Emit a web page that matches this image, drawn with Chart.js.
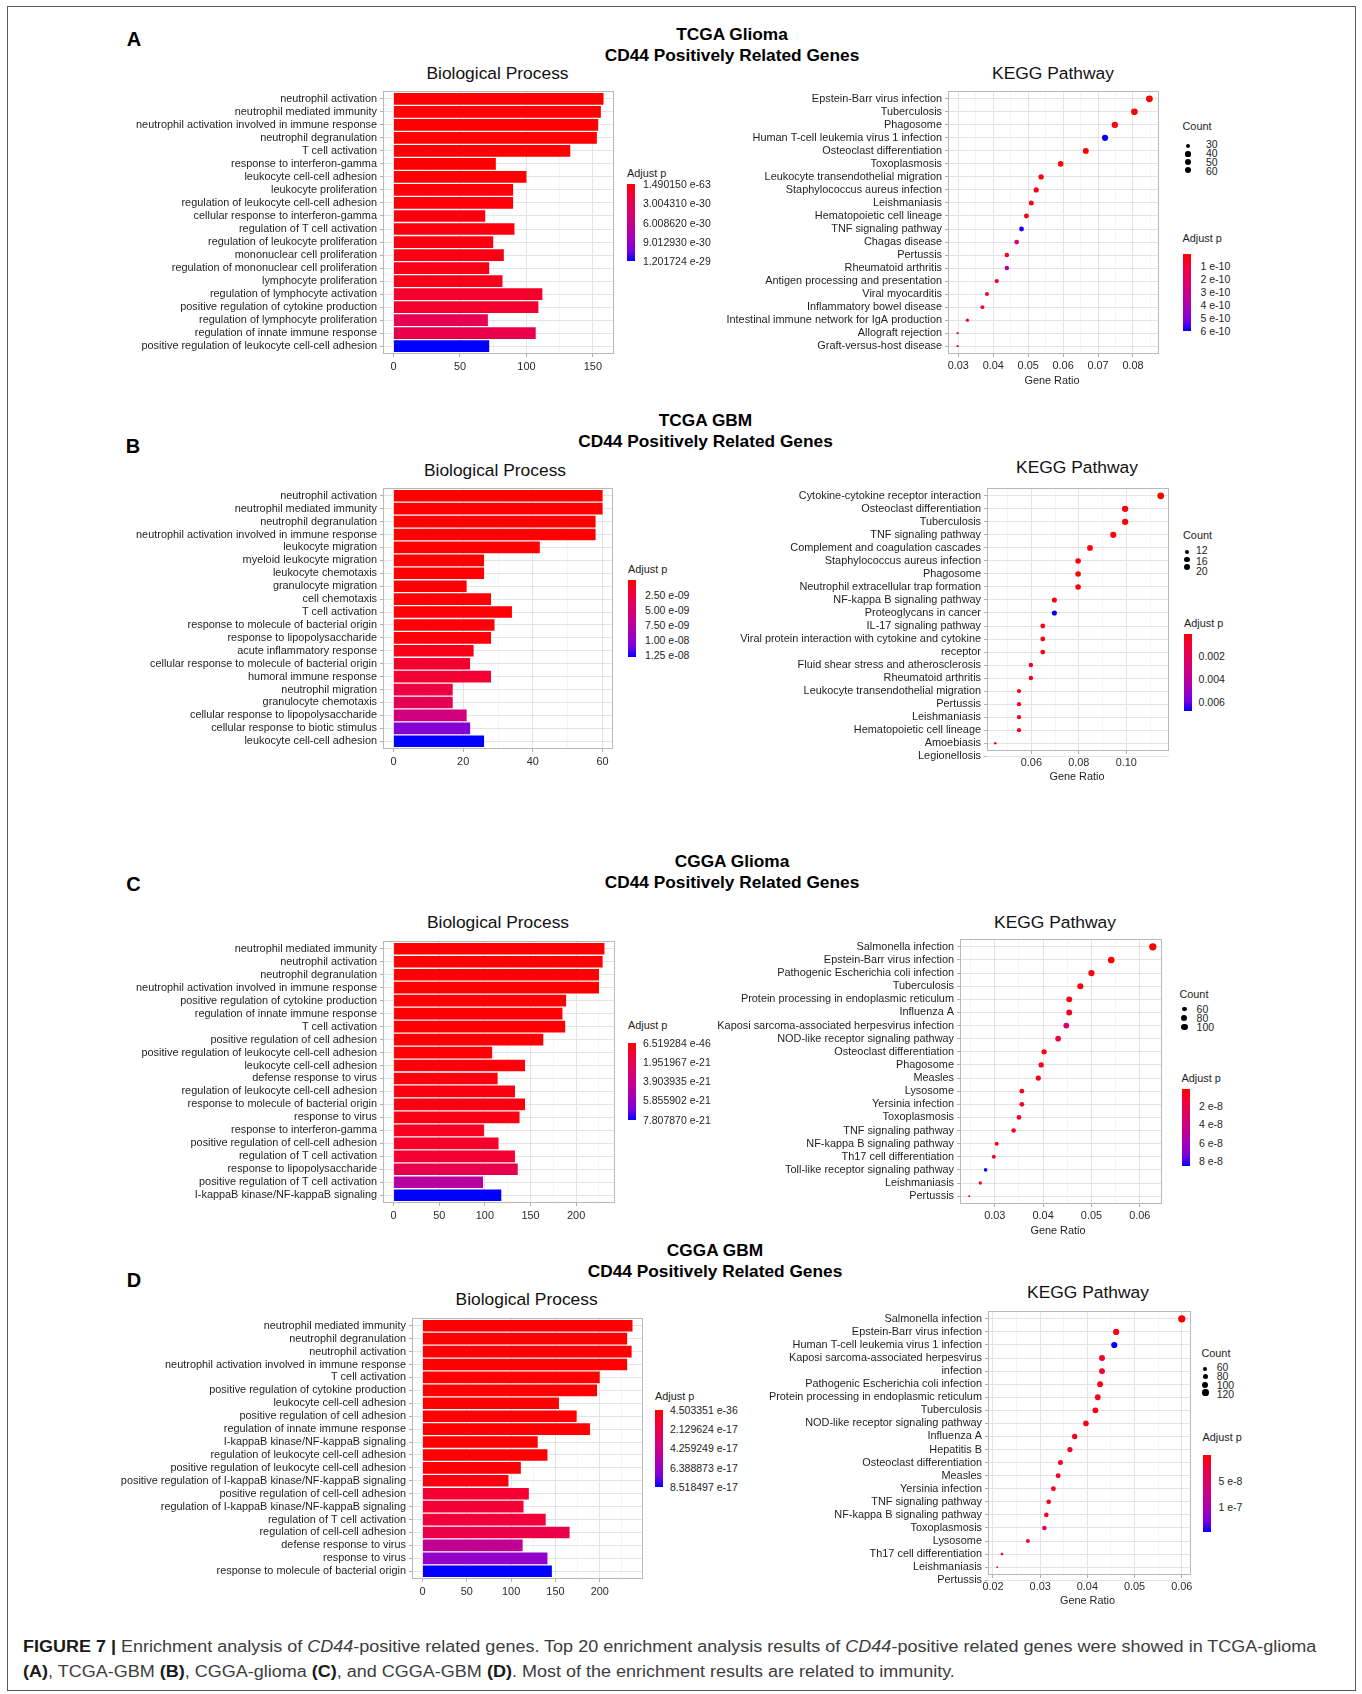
<!DOCTYPE html>
<html>
<head>
<meta charset="utf-8">
<script src="https://cdn.jsdelivr.net/npm/chart.js@4/dist/chart.umd.min.js"></script>
<style>
  body { margin: 0; background: #fff; }
  #fig { position: relative; width: 1362px; height: 1694px; overflow: hidden; font-family: "Liberation Sans", Arial, Helvetica, sans-serif; }
  #fig canvas { position: absolute; }
  .t { position: absolute; white-space: nowrap; line-height: 1.15; }
  .frame { position: absolute; left: 7px; top: 6px; width: 1347px; height: 1683px; border: 1.5px solid #5a5a5a; }
  .cap { position: absolute; left: 23px; white-space: nowrap; font-family: "Liberation Sans Narrow", "Liberation Sans", Arial, sans-serif; font-size: 16px; color: #3c3c3c; transform-origin: 0 50%; }
  .cap b { color: #1a1a1a; }
</style>
</head>
<body>
<div id="fig"><div class="frame"></div></div>
<script>
// ---------- A: TCGA glioma ----------
const bpTermsA = ["neutrophil activation", "neutrophil mediated immunity", "neutrophil activation involved in immune response",
  "neutrophil degranulation", "T cell activation", "response to interferon-gamma", "leukocyte cell-cell adhesion",
  "leukocyte proliferation", "regulation of leukocyte cell-cell adhesion", "cellular response to interferon-gamma",
  "regulation of T cell activation", "regulation of leukocyte proliferation", "mononuclear cell proliferation",
  "regulation of mononuclear cell proliferation", "lymphocyte proliferation", "regulation of lymphocyte activation",
  "positive regulation of cytokine production", "regulation of lymphocyte proliferation",
  "regulation of innate immune response", "positive regulation of leukocyte cell-cell adhesion"];
const bpCountA = [158, 156, 154, 153, 133, 77, 100, 90, 90, 69, 91, 75, 83, 72, 82, 112, 109, 71, 107, 72];
const bpPadjA = [1.49e-63, 5.2e-62, 8.7e-61, 2.4e-60, 3.1e-52, 6.5e-37, 1.8e-36, 2.6e-31, 2.9e-31, 3.8e-31,
  4.4e-31, 5.3e-31, 6.1e-31, 7.2e-31, 8.0e-31, 1.3e-30, 1.45e-30, 3.2e-30, 2.9e-30, 1.2017e-29];
const keggTermsA = ["Epstein-Barr virus infection", "Tuberculosis", "Phagosome", "Human T-cell leukemia virus 1 infection",
  "Osteoclast differentiation", "Toxoplasmosis", "Leukocyte transendothelial migration", "Staphylococcus aureus infection",
  "Leishmaniasis", "Hematopoietic cell lineage", "TNF signaling pathway", "Chagas disease", "Pertussis",
  "Rheumatoid arthritis", "Antigen processing and presentation", "Viral myocarditis", "Inflammatory bowel disease",
  "Intestinal immune network for IgA production", "Allograft rejection", "Graft-versus-host disease"];
const keggRatioA = [0.0847, 0.0804, 0.0748, 0.0720, 0.0665, 0.0593, 0.0537, 0.0523, 0.0509, 0.0495,
  0.0481, 0.0467, 0.0439, 0.0439, 0.0410, 0.0382, 0.0369, 0.0326, 0.0298, 0.0298];
const keggCountA = [64, 61, 56, 54, 50, 45, 41, 40, 38, 37, 36, 35, 33, 33, 31, 29, 28, 25, 23, 23];
const keggPadjA = [8e-12, 1.2e-11, 1.5e-11, 6.0e-10, 9e-12, 2.4e-11, 2.9e-11, 3.3e-11, 4.1e-11, 4.6e-11,
  5.8e-10, 2.6e-10, 5.0e-11, 3.7e-10, 7.9e-11, 6.2e-11, 9.5e-11, 8.4e-11, 9.9e-11, 1.02e-10];

// ---------- B: TCGA GBM ----------
const bpTermsB = ["neutrophil activation", "neutrophil mediated immunity", "neutrophil degranulation",
  "neutrophil activation involved in immune response", "leukocyte migration", "myeloid leukocyte migration",
  "leukocyte chemotaxis", "granulocyte migration", "cell chemotaxis", "T cell activation",
  "response to molecule of bacterial origin", "response to lipopolysaccharide", "acute inflammatory response",
  "cellular response to molecule of bacterial origin", "humoral immune response", "neutrophil migration",
  "granulocyte chemotaxis", "cellular response to lipopolysaccharide", "cellular response to biotic stimulus",
  "leukocyte cell-cell adhesion"];
const bpCountB = [60, 60, 58, 58, 42, 26, 26, 21, 28, 34, 29, 28, 23, 22, 28, 17, 17, 21, 22, 26];
const bpPadjB = [1.2e-15, 3.5e-15, 8.1e-14, 1.6e-13, 2.2e-12, 4.7e-11, 6.3e-11, 9.8e-11, 1.5e-10, 2.1e-10,
  2.6e-10, 3.4e-10, 7.7e-10, 1.54e-9, 1.8e-9, 2.56e-9, 3.46e-9, 5.76e-9, 1.05e-8, 1.28e-8];
const keggTermsB = ["Cytokine-cytokine receptor interaction", "Osteoclast differentiation", "Tuberculosis",
  "TNF signaling pathway", "Complement and coagulation cascades", "Staphylococcus aureus infection", "Phagosome",
  "Neutrophil extracellular trap formation", "NF-kappa B signaling pathway", "Proteoglycans in cancer",
  "IL-17 signaling pathway", "Viral protein interaction with cytokine and cytokine", "receptor",
  "Fluid shear stress and atherosclerosis", "Rheumatoid arthritis", "Leukocyte transendothelial migration",
  "Pertussis", "Leishmaniasis", "Hematopoietic cell lineage", "Amoebiasis", "Legionellosis"];
const keggRatioB = [0.1145, 0.0995, 0.0995, 0.0945, 0.0847, 0.0797, 0.0797, 0.0797, 0.0697, 0.0697,
  0.0648, 0.0648, 0.0648, 0.0598, 0.0598, 0.0548, 0.0548, 0.0548, 0.0548, 0.0448];
const keggCountB = [23, 20, 20, 19, 17, 16, 16, 16, 14, 14, 13, 13, 13, 12, 12, 11, 11, 11, 11, 9];
const keggPadjB = [6.0e-5, 1.1e-4, 1.3e-4, 1.5e-4, 2.6e-4, 2.2e-4, 2.4e-4, 1.9e-4, 3.1e-4, 6.8e-3,
  2.9e-4, 3.4e-4, 3.6e-4, 4.1e-4, 4.3e-4, 4.7e-4, 5.0e-4, 5.2e-4, 5.5e-4, 6.3e-4];

// ---------- C: CGGA glioma ----------
const bpTermsC = ["neutrophil mediated immunity", "neutrophil activation", "neutrophil degranulation",
  "neutrophil activation involved in immune response", "positive regulation of cytokine production",
  "regulation of innate immune response", "T cell activation", "positive regulation of cell adhesion",
  "positive regulation of leukocyte cell-cell adhesion", "leukocyte cell-cell adhesion", "defense response to virus",
  "regulation of leukocyte cell-cell adhesion", "response to molecule of bacterial origin", "response to virus",
  "response to interferon-gamma", "positive regulation of cell-cell adhesion", "regulation of T cell activation",
  "response to lipopolysaccharide", "positive regulation of T cell activation", "I-kappaB kinase/NF-kappaB signaling"];
const bpCountC = [231, 229, 225, 225, 189, 185, 188, 164, 108, 144, 114, 133, 144, 138, 99, 115, 133, 136, 98, 118];
const bpPadjC = [6.52e-46, 1.1e-45, 3.4e-44, 4.1e-44, 2.7e-33, 5.9e-31, 8.8e-31, 4.6e-28, 1.6e-22, 2.4e-22,
  2.9e-22, 3.3e-22, 3.6e-22, 3.9e-22, 6.3e-22, 8.6e-22, 1.02e-21, 1.96e-21, 4.7e-21, 7.85e-21];
const keggTermsC = ["Salmonella infection", "Epstein-Barr virus infection", "Pathogenic Escherichia coli infection",
  "Tuberculosis", "Protein processing in endoplasmic reticulum", "Influenza A",
  "Kaposi sarcoma-associated herpesvirus infection", "NOD-like receptor signaling pathway",
  "Osteoclast differentiation", "Phagosome", "Measles", "Lysosome", "Yersinia infection", "Toxoplasmosis",
  "TNF signaling pathway", "NF-kappa B signaling pathway", "Th17 cell differentiation",
  "Toll-like receptor signaling pathway", "Leishmaniasis", "Pertussis"];
const keggRatioC = [0.0627, 0.0541, 0.0500, 0.0477, 0.0454, 0.0454, 0.0448, 0.0431, 0.0402, 0.0396,
  0.0390, 0.0356, 0.0356, 0.0350, 0.0339, 0.0304, 0.0298, 0.0281, 0.0270, 0.0247];
const keggCountC = [110, 95, 87, 83, 79, 79, 78, 75, 70, 69, 68, 62, 62, 61, 59, 53, 52, 49, 47, 43];
const keggPadjC = [1.6e-9, 2.4e-9, 3.1e-9, 3.9e-9, 5.2e-9, 9.8e-9, 3.5e-8, 1.4e-8, 4.4e-9, 4.9e-9,
  5.5e-9, 1.0e-8, 1.05e-8, 8.1e-9, 6.0e-9, 8.6e-9, 1.02e-8, 8.5e-8, 6.2e-9, 6.6e-9];

// ---------- D: CGGA GBM ----------
const bpTermsD = ["neutrophil mediated immunity", "neutrophil degranulation", "neutrophil activation",
  "neutrophil activation involved in immune response", "T cell activation", "positive regulation of cytokine production",
  "leukocyte cell-cell adhesion", "positive regulation of cell adhesion", "regulation of innate immune response",
  "I-kappaB kinase/NF-kappaB signaling", "regulation of leukocyte cell-cell adhesion",
  "positive regulation of leukocyte cell-cell adhesion", "positive regulation of I-kappaB kinase/NF-kappaB signaling",
  "positive regulation of cell-cell adhesion", "regulation of I-kappaB kinase/NF-kappaB signaling",
  "regulation of T cell activation", "regulation of cell-cell adhesion", "defense response to virus",
  "response to virus", "response to molecule of bacterial origin"];
const bpCountD = [237, 231, 236, 231, 200, 197, 154, 174, 189, 130, 141, 111, 97, 120, 114, 139, 166, 113, 141, 146];
const bpPadjD = [4.50e-36, 9.1e-36, 1.3e-35, 2.2e-35, 3.6e-31, 7.7e-30, 5.5e-25, 1.2e-24, 4.4e-24, 3.7e-20,
  8.9e-20, 6.2e-19, 3.4e-18, 1.1e-17, 1.2e-17, 1.36e-17, 1.87e-17, 4.7e-17, 6.55e-17, 8.53e-17];
const keggTermsD = ["Salmonella infection", "Epstein-Barr virus infection", "Human T-cell leukemia virus 1 infection",
  "Kaposi sarcoma-associated herpesvirus", "infection", "Pathogenic Escherichia coli infection",
  "Protein processing in endoplasmic reticulum", "Tuberculosis", "NOD-like receptor signaling pathway", "Influenza A",
  "Hepatitis B", "Osteoclast differentiation", "Measles", "Yersinia infection", "TNF signaling pathway",
  "NF-kappa B signaling pathway", "Toxoplasmosis", "Lysosome", "Th17 cell differentiation", "Leishmaniasis", "Pertussis"];
const keggRatioD = [0.0600, 0.0461, 0.0457, 0.0431, 0.0431, 0.0427, 0.0422, 0.0417, 0.0397, 0.0373,
  0.0363, 0.0343, 0.0338, 0.0328, 0.0318, 0.0313, 0.0309, 0.0274, 0.0219, 0.0209];
const keggCountD = [138, 106, 105, 99, 99, 98, 97, 96, 91, 86, 83, 79, 78, 75, 73, 72, 71, 63, 50, 48];
const keggPadjD = [1.0e-9, 1.1e-8, 1.48e-7, 1.6e-8, 1.55e-8, 1.3e-8, 1.15e-8, 8.5e-9, 8.2e-9, 1.6e-8,
  1.5e-8, 1.45e-8, 1.25e-8, 1.5e-8, 1.3e-8, 1.6e-8, 5.2e-8, 1.9e-8, 2.3e-8, 6.7e-8];

// ---------- ticks & legend breaks ----------
const bpTicksA = [0, 50, 100, 150];
const bpTicksB = [0, 20, 40, 60];
const bpTicksC = [0, 50, 100, 150, 200];
const bpTicksD = [0, 50, 100, 150, 200];
const keggTicksA = [0.03, 0.04, 0.05, 0.06, 0.07, 0.08];
const keggTicksB = [0.06, 0.08, 0.10];
const keggTicksC = [0.03, 0.04, 0.05, 0.06];
const keggTicksD = [0.02, 0.03, 0.04, 0.05, 0.06];
const countBreaksA = [30, 40, 50, 60];
const countBreaksB = [12, 16, 20];
const countBreaksC = [60, 80, 100];
const countBreaksD = [60, 80, 100, 120];
const bpPBreaksA = [1.490150e-63, 3.004310e-30, 6.008620e-30, 9.012930e-30, 1.201724e-29];
const bpPLabelsA = ["1.490150 e-63", "3.004310 e-30", "6.008620 e-30", "9.012930 e-30", "1.201724 e-29"];
const bpPBreaksB = [2.5e-9, 5e-9, 7.5e-9, 1e-8, 1.25e-8];
const bpPLabelsB = ["2.50 e-09", "5.00 e-09", "7.50 e-09", "1.00 e-08", "1.25 e-08"];
const bpPBreaksC = [6.519284e-46, 1.951967e-21, 3.903935e-21, 5.855902e-21, 7.807870e-21];
const bpPLabelsC = ["6.519284 e-46", "1.951967 e-21", "3.903935 e-21", "5.855902 e-21", "7.807870 e-21"];
const bpPBreaksD = [4.503351e-36, 2.129624e-17, 4.259249e-17, 6.388873e-17, 8.518497e-17];
const bpPLabelsD = ["4.503351 e-36", "2.129624 e-17", "4.259249 e-17", "6.388873 e-17", "8.518497 e-17"];
const keggPBreaksA = [1e-10, 2e-10, 3e-10, 4e-10, 5e-10, 6e-10];
const keggPLabelsA = ["1 e-10", "2 e-10", "3 e-10", "4 e-10", "5 e-10", "6 e-10"];
const keggPBreaksB = [0.002, 0.004, 0.006];
const keggPLabelsB = ["0.002", "0.004", "0.006"];
const keggPBreaksC = [2e-8, 4e-8, 6e-8, 8e-8];
const keggPLabelsC = ["2 e-8", "4 e-8", "6 e-8", "8 e-8"];
const keggPBreaksD = [5e-8, 1e-7];
const keggPLabelsD = ["5 e-8", "1 e-7"];

// ---------- helpers ----------
const fig = document.getElementById("fig");
// red -> blue, sampled from a Lab interpolation (like ggplot's continuous colour scale)
const RAMP = [[0, [255, 0, 0]], [0.125, [244, 0, 49]], [0.25, [232, 0, 79]], [0.5, [202, 0, 137]],
  [0.75, [154, 0, 195]], [0.875, [115, 0, 224]], [1, [0, 0, 255]]];
const GRADIENT = "linear-gradient(to bottom," + RAMP.map(([t, c]) => `rgb(${c}) ${t * 100}%`).join(",") + ")";

function rampColor(t) {
  t = Math.max(0, Math.min(1, t));
  for (let i = 1; i < RAMP.length; i++) {
    const [t1, c1] = RAMP[i];
    if (t <= t1) {
      const [t0, c0] = RAMP[i - 1];
      const f = (t - t0) / (t1 - t0);
      return `rgb(${c0.map((v, k) => Math.round(v + (c1[k] - v) * f)).join(",")})`;
    }
  }
  return "rgb(0,0,255)";
}

function text(str, x, y, { size = 10.9, weight = 400, align = "left", color = "#1e1e1e" } = {}) {
  const d = document.createElement("div");
  d.className = "t";
  d.innerHTML = str;
  const tx = align === "center" ? "-50%" : align === "right" ? "-100%" : "0";
  d.style.cssText = `left:${x}px;top:${y}px;font-size:${size}px;font-weight:${weight};color:${color};transform:translate(${tx},-50%)`;
  fig.appendChild(d);
}

const panelBorder = {
  id: "panelBorder",
  afterDraw(chart) {
    const { ctx, chartArea: a } = chart;
    ctx.save();
    ctx.strokeStyle = "#b8b8b8";
    ctx.lineWidth = 1;
    ctx.strokeRect(a.left + 0.5, a.top + 0.5, a.width - 1, a.height - 1);
    ctx.restore();
  }
};

Chart.defaults.font.family = '"Liberation Sans", Arial, Helvetica, sans-serif';
Chart.defaults.font.size = 10.9;
Chart.defaults.color = "#1e1e1e";

function makeChart({ kind, box, wy, terms, xs, padj, counts, ticks, rMin = 1.1, rMax = 3.5 }) {
  const [L, T, R, B] = box;
  const padT = 4, padR = 4, hx = kind === "bar" ? 28 : 32;
  const w = Math.round(wy + (R - L) + padR), h = Math.round(padT + (B - T) + hx);
  const canvas = document.createElement("canvas");
  canvas.width = w;
  canvas.height = h;
  canvas.style.left = (L - wy) + "px";
  canvas.style.top = (T - padT) + "px";
  canvas.style.width = w + "px";
  canvas.style.height = h + "px";
  fig.appendChild(canvas);

  const lo = kind === "bar" ? 0 : Math.min(...xs), hi = Math.max(...xs), pad = (hi - lo) * 0.05;
  const pmin = Math.min(...padj), pmax = Math.max(...padj);
  const colors = padj.map((p) => rampColor((p - pmin) / (pmax - pmin)));
  const rows = xs.length;
  const step = ticks[1] - ticks[0];
  const minors = [];
  for (let i = -1; i < ticks.length; i++) minors.push(+(ticks[0] + (i + 0.5) * step).toFixed(6));
  const allTicks = ticks.concat(minors.filter((v) => v > lo - pad && v < hi + pad)).sort((a, b) => a - b);
  const isMajor = (v) => ticks.some((t) => Math.abs(t - v) < step / 100);
  const fmt = (v) => (kind === "bar" ? String(v) : v.toFixed(2));

  let rad = null;
  const pts = xs.map((v, i) => ({ x: v, y: i + 1 }));
  let dataset;
  if (kind === "bar") {
    dataset = { data: pts, backgroundColor: colors, borderWidth: 0, barPercentage: 0.9, categoryPercentage: 1 };
  } else {
    const cMin = Math.min(...counts), cMax = Math.max(...counts);
    rad = (c) => rMin + (rMax - rMin) * Math.sqrt(Math.max(0, (c - cMin) / (cMax - cMin)));
    const radii = counts.map(rad);
    dataset = { data: pts, pointRadius: radii, pointHoverRadius: radii, pointBackgroundColor: colors, pointBorderWidth: 0 };
  }

  new Chart(canvas, {
    type: kind === "bar" ? "bar" : "scatter",
    data: { datasets: [dataset] },
    options: {
      responsive: false,
      animation: false,
      events: [],
      indexAxis: kind === "bar" ? "y" : "x",
      layout: { padding: { top: padT, right: padR, left: 0, bottom: 0 } },
      plugins: { legend: { display: false }, tooltip: { enabled: false } },
      scales: {
        x: {
          type: "linear", min: lo - pad, max: hi + pad, offset: false,
          afterBuildTicks: (s) => { s.ticks = allTicks.map((v) => ({ value: v })); },
          afterFit: (s) => { s.height = hx; s.paddingLeft = 0; s.paddingRight = 0; },
          border: { display: false },
          grid: {
            offset: false,
            color: (c) => (!c.tick || isMajor(c.tick.value) ? "#e4e4e4" : "#f1f1f1"),
            lineWidth: (c) => (!c.tick || isMajor(c.tick.value) ? 1 : 0.7),
            tickLength: 3,
            tickColor: (c) => (!c.tick || isMajor(c.tick.value) ? "#b0b0b0" : "rgba(0,0,0,0)")
          },
          ticks: { autoSkip: false, maxRotation: 0, padding: kind === "bar" ? 3.5 : 2.5, color: "#2a2a2a",
            callback: (v) => (isMajor(v) ? fmt(v) : "") }
        },
        y: {
          type: "linear", reverse: true, min: 0.4, max: rows + 0.6, offset: false,
          afterBuildTicks: (s) => { s.ticks = terms.map((_, i) => ({ value: i + 1 })); },
          afterFit: (s) => { s.width = wy; s.paddingTop = 0; s.paddingBottom = 0; },
          border: { display: false },
          grid: { offset: false, color: "#e4e4e4", lineWidth: 1, tickLength: 3, tickColor: "#b0b0b0" },
          ticks: { autoSkip: false, padding: 3, color: "#1e1e1e", callback: (v) => terms[v - 1] }
        }
      }
    },
    plugins: [panelBorder]
  });
  return { pmin, pmax, rad };
}

function colorLegend(x, yTitle, barTop, labelX, breaks, labels, pmin, pmax) {
  text("Adjust p", x, yTitle);
  const bar = document.createElement("div");
  bar.style.cssText = `position:absolute;left:${x}px;top:${barTop}px;width:8px;height:77px;background:${GRADIENT}`;
  fig.appendChild(bar);
  breaks.forEach((b, i) => text(labels[i], labelX, barTop + (77 * (b - pmin)) / (pmax - pmin), { size: 10.5 }));
}

function countLegend(x, yTitle, dotX, dotY0, dotStep, labelX, labY0, labStep, breaks, rad) {
  text("Count", x, yTitle);
  breaks.forEach((b, i) => {
    const r = rad(b), y = dotY0 + i * dotStep;
    const d = document.createElement("div");
    d.style.cssText = `position:absolute;left:${dotX - r}px;top:${y - r}px;width:${2 * r}px;height:${2 * r}px;border-radius:50%;background:#000`;
    fig.appendChild(d);
    text(String(b), labelX, labY0 + i * labStep, { size: 10.5 });
  });
}

// ---------- panels ----------
const bpA = makeChart({ kind: "bar", box: [382.5, 90.7, 613.5, 353.3], wy: 270, terms: bpTermsA, xs: bpCountA, padj: bpPadjA, ticks: bpTicksA });
const bpB = makeChart({ kind: "bar", box: [382.5, 488.3, 612.8, 749.3], wy: 270, terms: bpTermsB, xs: bpCountB, padj: bpPadjB, ticks: bpTicksB });
const bpC = makeChart({ kind: "bar", box: [382.5, 940.7, 614, 1202.3], wy: 270, terms: bpTermsC, xs: bpCountC, padj: bpPadjC, ticks: bpTicksC });
const bpD = makeChart({ kind: "bar", box: [412, 1317.7, 643, 1579], wy: 300, terms: bpTermsD, xs: bpCountD, padj: bpPadjD, ticks: bpTicksD });
const kgA = makeChart({ kind: "dot", box: [948, 90.7, 1159, 354], wy: 240, terms: keggTermsA, xs: keggRatioA, padj: keggPadjA, counts: keggCountA, ticks: keggTicksA, rMin: 1.15, rMax: 3.4 });
const kgB = makeChart({ kind: "dot", box: [986.6, 488.3, 1168.8, 751.7], wy: 255, terms: keggTermsB, xs: keggRatioB, padj: keggPadjB, counts: keggCountB, ticks: keggTicksB, rMin: 1.3, rMax: 3.4 });
const kgC = makeChart({ kind: "dot", box: [959.7, 939.3, 1161.4, 1204], wy: 250, terms: keggTermsC, xs: keggRatioC, padj: keggPadjC, counts: keggCountC, ticks: keggTicksC, rMin: 1.0, rMax: 3.65 });
const kgD = makeChart({ kind: "dot", box: [988.2, 1311, 1190.7, 1575], wy: 240, terms: keggTermsD, xs: keggRatioD, padj: keggPadjD, counts: keggCountD, ticks: keggTicksD, rMin: 0.9, rMax: 3.65 });

// panel letters and headings
const H = { size: 17.3, weight: 700, align: "center", color: "#000" };
[["A", 134, 39], ["B", 133, 446], ["C", 133.5, 884], ["D", 134, 1280]].forEach(([s, x, y]) =>
  text(s, x, y, { size: 20, weight: 700, align: "center", color: "#000" }));
text("TCGA Glioma", 732, 35, H);
text("CD44 Positively Related Genes", 732, 56, H);
text("TCGA GBM", 705.5, 421, H);
text("CD44 Positively Related Genes", 705.5, 442, H);
text("CGGA Glioma", 732, 862, H);
text("CD44 Positively Related Genes", 732, 883, H);
text("CGGA GBM", 715, 1251, H);
text("CD44 Positively Related Genes", 715, 1272, H);

const ST = { size: 17.4, align: "center", color: "#111" };
text("Biological Process", 497.5, 72.7, ST);
text("Biological Process", 495, 470, ST);
text("Biological Process", 498, 922.3, ST);
text("Biological Process", 526.6, 1299, ST);
text("KEGG Pathway", 1053, 72.7, ST);
text("KEGG Pathway", 1077, 466.7, ST);
text("KEGG Pathway", 1055, 922, ST);
text("KEGG Pathway", 1088, 1292.3, ST);

text("Gene Ratio", 1052, 380, { align: "center" });
text("Gene Ratio", 1077, 776, { align: "center" });
text("Gene Ratio", 1058, 1230, { align: "center" });
text("Gene Ratio", 1087.5, 1600, { align: "center" });

// legends
colorLegend(627, 173, 184, 643, bpPBreaksA, bpPLabelsA, bpA.pmin, bpA.pmax);
colorLegend(628, 569, 580, 645, bpPBreaksB, bpPLabelsB, bpB.pmin, bpB.pmax);
colorLegend(628, 1025, 1043, 643, bpPBreaksC, bpPLabelsC, bpC.pmin, bpC.pmax);
colorLegend(655, 1396, 1410, 670, bpPBreaksD, bpPLabelsD, bpD.pmin, bpD.pmax);

countLegend(1182.5, 126, 1188, 146, 8, 1206, 143.5, 9.2, countBreaksA, kgA.rad);
colorLegend(1182.5, 238, 254, 1200.5, keggPBreaksA, keggPLabelsA, kgA.pmin, kgA.pmax);
countLegend(1183, 535, 1187, 552, 7.5, 1196, 550, 10.5, countBreaksB, kgB.rad);
colorLegend(1184, 623, 634, 1198.6, keggPBreaksB, keggPLabelsB, kgB.pmin, kgB.pmax);
countLegend(1179.4, 994, 1184.4, 1009, 9, 1196.6, 1009.3, 9, countBreaksC, kgC.rad);
colorLegend(1181.5, 1077.7, 1089, 1199, keggPBreaksC, keggPLabelsC, kgC.pmin, kgC.pmax);
countLegend(1201.4, 1353.3, 1205.3, 1369, 7.9, 1216.7, 1366.7, 9.2, countBreaksD, kgD.rad);
colorLegend(1202.5, 1437, 1455, 1218.5, keggPBreaksD, keggPLabelsD, kgD.pmin, kgD.pmax);

// caption
const cap1 = document.createElement("div");
cap1.className = "cap";
cap1.innerHTML = "<b>FIGURE 7 |</b> Enrichment analysis of <i>CD44</i>-positive related genes. Top 20 enrichment analysis results of <i>CD44</i>-positive related genes were showed in TCGA-glioma";
const cap2 = document.createElement("div");
cap2.className = "cap";
cap2.innerHTML = "<b>(A)</b>, TCGA-GBM <b>(B)</b>, CGGA-glioma <b>(C)</b>, and CGGA-GBM <b>(D)</b>. Most of the enrichment results are related to immunity.";
fig.appendChild(cap1);
fig.appendChild(cap2);
const sx = 1293 / cap1.offsetWidth;
cap1.style.top = "1647px";
cap2.style.top = "1672px";
cap1.style.transform = `translateY(-50%) scaleX(${sx})`;
cap2.style.transform = `translateY(-50%) scaleX(${sx})`;
</script>
</body>
</html>
